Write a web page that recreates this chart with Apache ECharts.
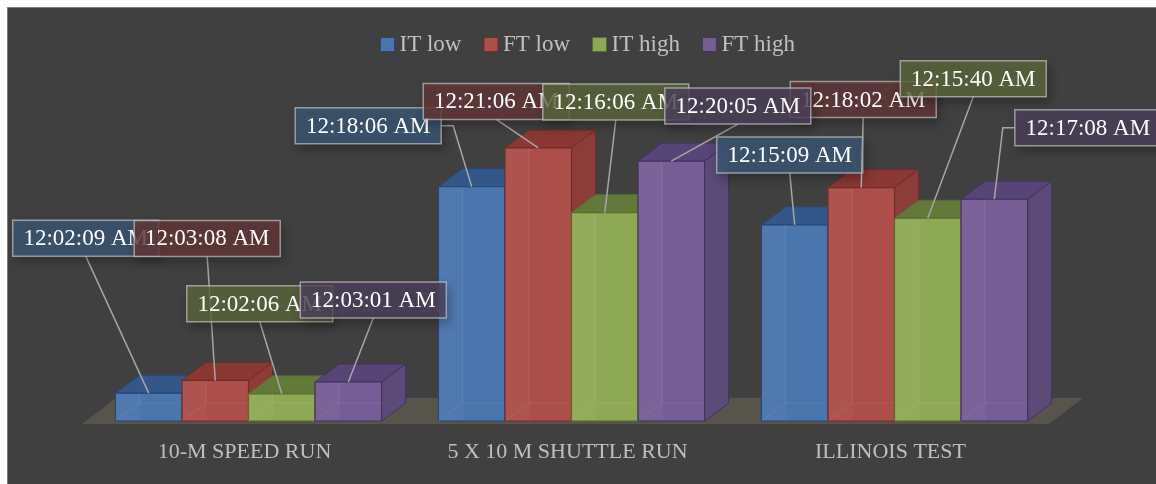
<!DOCTYPE html>
<html>
<head>
<meta charset="utf-8">
<script src="https://cdn.jsdelivr.net/npm/echarts@6/dist/echarts.min.js"></script>
<style>
  html, body { margin: 0; padding: 0; background: #fff; width: 1156px; height: 484px; overflow: hidden; }
  #frame { position: absolute; left: 7px; top: 7px; width: 1200px; height: 520px; background: #404040; border-left: 1px solid #7f7f7f; border-top: 1px solid #7f7f7f; }
  #chart { position: absolute; left: 0; top: 0; width: 1156px; height: 484px; }
</style>
</head>
<body>
<div id="frame"></div>
<div id="chart"></div>
<script>
  // categories on the x axis
  const categories = ['10-M SPEED RUN', '5 X 10 M SHUTTLE RUN', 'ILLINOIS TEST'];
  const seriesNames = ['IT low', 'FT low', 'IT high', 'FT high'];

  // times in seconds (shown as 12:mm:ss AM)
  const itLow = [129, 1086, 909];
  const ftLow = [188, 1266, 1082];
  const itHigh = [126, 966, 940];
  const ftHigh = [181, 1205, 1028];
  const allValues = [itLow, ftLow, itHigh, ftHigh];

  // where each label box sits, relative to the top of its bar
  const labelDx = [[-63, -103.5, -5], [-8, -42, 2], [-22, 11, 45.5], [25, 66.5, 93.5]];
  const labelDy = [[-155, -61, -70], [-142, -46.5, -88], [-90, -110.5, -139.5], [-82, -55, -71.5]];

  const palette = [
    { front: '#4a76ad', top: '#34578a', side: '#385b8b', edge: '#2a4773', label: 'rgba(62,90,120,0.78)' },
    { front: '#ac4e4a', top: '#8b3834', side: '#8c3c39', edge: '#742c29', label: 'rgba(102,56,56,0.78)' },
    { front: '#8ea955', top: '#62793a', side: '#6e853f', edge: '#576d2f', label: 'rgba(94,106,61,0.78)' },
    { front: '#775d96', top: '#574577', side: '#5c4a78', edge: '#43335f', label: 'rgba(80,67,95,0.78)' }
  ];

  const BAR_RATIO = 0.206; // share of a category band taken by one bar
  const DX = 24, DY = -18;  // 3d depth
  const BOX_W = 146, BOX_H = 36;
  const FONT = '"Liberation Serif", "Times New Roman", serif';

  function fmtTime(sec) {
    const m = Math.floor(sec / 60), s = sec % 60;
    return '12:' + String(m).padStart(2, '0') + ':' + String(s).padStart(2, '0') + ' AM';
  }

  function barGeom(idx, api) {
    const cat = api.value(0);
    const base = api.coord([cat, 0]);
    const top = api.coord([cat, api.value(1)]);
    const bw = api.size([1, 0])[0] * BAR_RATIO;
    const x0 = base[0] - 2 * bw + idx * bw;
    return { x0: x0, x1: x0 + bw, bw: bw, yb: base[1], yt: top[1] };
  }

  function barItem(idx) {
    return function (params, api) {
      const c = palette[idx];
      const g = barGeom(idx, api);
      const faint = 'rgba(255,255,255,0.07)';
      return {
        type: 'group',
        children: [
          { type: 'polygon', shape: { points: [[g.x1, g.yt], [g.x1 + DX, g.yt + DY], [g.x1 + DX, g.yb + DY], [g.x1, g.yb]] },
            style: { fill: c.side, stroke: c.edge, lineWidth: 1 } },
          { type: 'polygon', shape: { points: [[g.x0, g.yt], [g.x1, g.yt], [g.x1 + DX, g.yt + DY], [g.x0 + DX, g.yt + DY]] },
            style: { fill: c.top, stroke: c.edge, lineWidth: 1 } },
          { type: 'rect', shape: { x: g.x0, y: g.yt, width: g.bw, height: g.yb - g.yt },
            style: { fill: c.front, stroke: c.edge, lineWidth: 1.2 } },
          // see-through left face and back edges
          { type: 'rect', shape: { x: g.x0 + 1, y: g.yt + 1, width: DX, height: g.yb - g.yt - 2 },
            style: { fill: 'rgba(255,255,255,0.035)' } },
          { type: 'polyline', shape: { points: [[g.x0 + DX, g.yt], [g.x0 + DX, g.yb + DY], [g.x1, g.yb + DY]] },
            style: { stroke: faint, fill: null, lineWidth: 1 } },
          { type: 'line', shape: { x1: g.x0, y1: g.yb, x2: g.x0 + DX, y2: g.yb + DY },
            style: { stroke: faint, lineWidth: 1 } }
        ]
      };
    };
  }

  function labelItem(idx) {
    return function (params, api) {
      const c = palette[idx];
      const g = barGeom(idx, api);
      const ax = g.x0 + g.bw / 2, ay = g.yt;
      const cx = ax + labelDx[idx][params.dataIndex];
      const cy = ay + labelDy[idx][params.dataIndex];
      let pts;
      if (Math.abs(cx - ax) > BOX_W / 2 + 10) {
        const sx = cx > ax ? cx - BOX_W / 2 : cx + BOX_W / 2;
        const ex = cx > ax ? sx - 12 : sx + 12;
        pts = [[sx, cy], [ex, cy], [ax, ay]];
      } else {
        pts = [[cx, cy + BOX_H / 2], [ax, ay]];
      }
      return {
        type: 'group',
        children: [
          { type: 'polyline', shape: { points: pts }, style: { stroke: '#a6a6a6', lineWidth: 1.5, fill: null } },
          { type: 'rect', shape: { x: cx - BOX_W / 2, y: cy - BOX_H / 2, width: BOX_W, height: BOX_H },
            style: { fill: c.label, stroke: 'rgba(215,215,215,0.6)', lineWidth: 1.5,
              shadowBlur: 10, shadowOffsetX: 3, shadowOffsetY: 5, shadowColor: 'rgba(0,0,0,0.35)' } },
          { type: 'text', style: { text: fmtTime(api.value(1)), x: cx, y: cy + 1, fill: '#ffffff',
              font: '23px ' + FONT, align: 'center', verticalAlign: 'middle' } }
        ]
      };
    };
  }

  const chart = echarts.init(document.getElementById('chart'));

  const series = [{
    type: 'custom',
    name: 'floor',
    silent: true,
    z: 1,
    data: [[0, 0]],
    renderItem: function (params, api) {
      const band = api.size([1, 0])[0];
      const first = api.coord([0, 0]);
      const last = api.coord([categories.length - 1, 0]);
      const xl = first[0] - band / 2 - 5, xr = last[0] + band / 2 - 7, y = first[1] + 3;
      return { type: 'polygon', shape: { points: [[xl, y], [xr, y], [xr + 34, y - 26], [xl + 34, y - 26]] },
        style: { fill: '#57544b' } };
    }
  }];

  allValues.forEach(function (vals, i) {
    const data = vals.map(function (v, j) { return [j, v]; });
    series.push({
      type: 'custom', name: seriesNames[i], z: 2, data: data, encode: { x: 0, y: 1 },
      itemStyle: { color: palette[i].front }, renderItem: barItem(i)
    });
  });
  allValues.forEach(function (vals, i) {
    const data = vals.map(function (v, j) { return [j, v]; });
    series.push({
      type: 'custom', name: seriesNames[i], z: 5, silent: true, data: data, encode: { x: 0, y: 1 },
      itemStyle: { color: palette[i].front }, renderItem: labelItem(i)
    });
  });

  chart.setOption({
    backgroundColor: 'transparent',
    animation: false,
    legend: {
      left: 380, top: 33, padding: 0,
      itemWidth: 14, itemHeight: 14, itemGap: 22,
      icon: 'rect',
      textStyle: { color: '#c0c0c0', fontSize: 23, fontFamily: FONT },
      data: seriesNames.map(function (n, i) {
        return { name: n, itemStyle: { color: palette[i].front, borderColor: palette[i].edge, borderWidth: 1 } };
      })
    },
    grid: { left: 87, right: 100, top: 119, bottom: 63 },
    xAxis: {
      type: 'category',
      data: categories,
      axisLine: { show: false },
      axisTick: { show: false },
      splitLine: { show: false },
      axisLabel: { color: '#bfbfbf', fontSize: 22, fontFamily: FONT, margin: 20, padding: [0, 8, 0, 0] }
    },
    yAxis: { type: 'value', min: 0, max: 1400, show: false, splitLine: { show: false } },
    series: series
  });
</script>
</body>
</html>
